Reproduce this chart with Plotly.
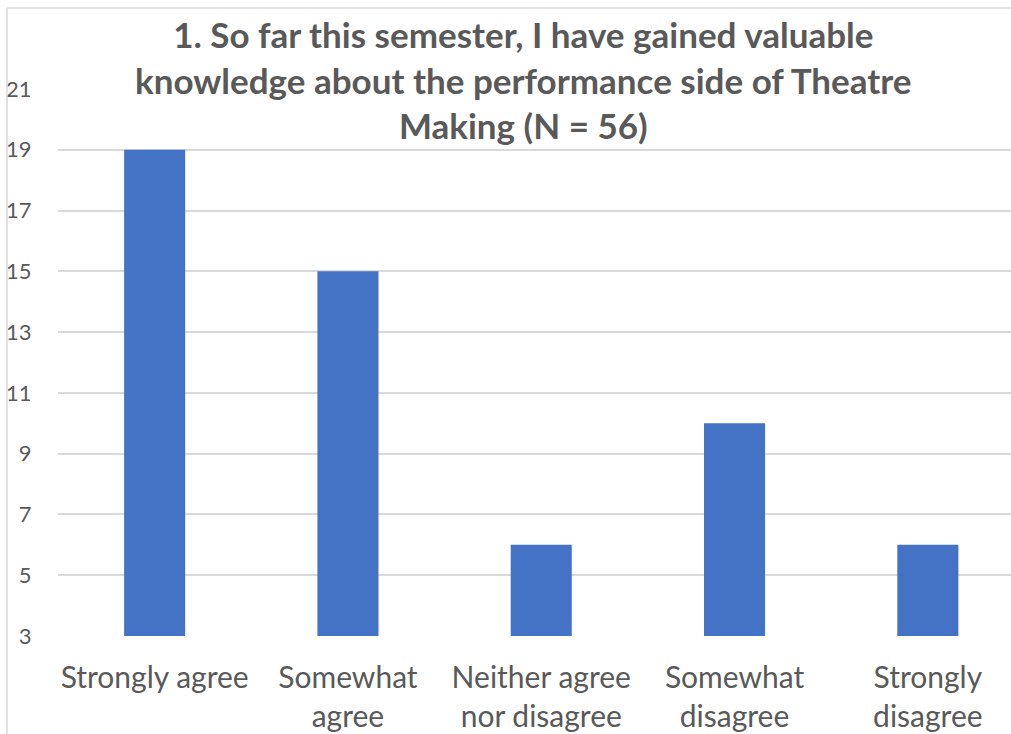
import plotly.graph_objects as go

categories = ["Strongly agree", "Somewhat<br>agree", "Neither agree<br>nor disagree", "Somewhat<br>disagree", "Strongly<br>disagree"]
counts = [19, 15, 6, 10, 6]
y_ticks = [3, 5, 7, 9, 11, 13, 15, 17, 19, 21]
title_text = "1. So far this semester, I have gained valuable<br>knowledge about the performance side of Theatre<br>Making (N = 56)"

W, H = 1011, 734
L, R, T, B = 58, 0, 89, 98
pw, ph = W - L - R, H - T - B
AXIS_MIN = 3

fig = go.Figure()
fig.add_trace(go.Bar(
    x=list(range(len(categories))), y=[c - AXIS_MIN for c in counts], base=AXIS_MIN,
    width=0.316, marker=dict(color="#4472C4", line=dict(width=0)),
    hovertext=[str(c) for c in counts],
))

fig.update_layout(
    width=W, height=H,
    margin=dict(l=L, r=R, t=T, b=B),
    paper_bgcolor="white", plot_bgcolor="white",
    showlegend=False,
    font=dict(family="Lato, Open Sans, sans-serif", color="#595959"),
    xaxis=dict(
        range=[-0.5, -0.5 + pw / 193.3],
        tickmode="array", tickvals=list(range(len(categories))), ticktext=categories,
        showgrid=False, zeroline=False, showline=False,
        tickfont=dict(size=30, color="#595959"),
        ticks="outside", ticklen=15, tickcolor="rgba(0,0,0,0)",
    ),
    yaxis=dict(
        range=[3, 21], tickmode="array", tickvals=y_ticks,
        showgrid=True, gridcolor="#d9d9d9", gridwidth=1.5,
        zeroline=False, showline=False,
        tickfont=dict(size=22, color="#595959"),
        ticks="outside", ticklen=21, tickcolor="rgba(0,0,0,0)",
    ),
)

# chart border (left and top visible)
bx = (7 - L) / pw
by = 1 + (T - 8) / ph
fig.add_shape(type="line", xref="paper", yref="paper", x0=bx, x1=bx, y0=-2, y1=by,
              line=dict(color="#d9d9d9", width=1.5))
fig.add_shape(type="line", xref="paper", yref="paper", x0=bx, x1=1.2, y0=by, y1=by,
              line=dict(color="#d9d9d9", width=1.5))

fig.add_annotation(
    text="<b>" + title_text + "</b>",
    xref="paper", yref="paper",
    x=(523 - L) / pw, y=1 + (T - 79) / ph,
    xanchor="center", yanchor="middle",
    showarrow=False, align="center",
    font=dict(size=35, color="#595959", family="Lato, Open Sans, sans-serif"),
)

fig.write_html("out.html", config={"displayModeBar": False},
               post_script="document.documentElement.style.overflow='hidden';document.body.style.margin='0';document.body.style.overflow='hidden';")
